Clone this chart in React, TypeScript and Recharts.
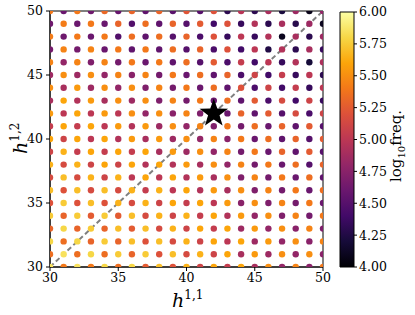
import { ScatterChart, Scatter, XAxis, YAxis, ReferenceLine, ReferenceArea, BarChart, Bar } from "recharts";

// h^{1,1} columns and h^{1,2} rows (top row first)
const h11Values = [30, 31, 32, 33, 34, 35, 36, 37, 38, 39, 40, 41, 42, 43, 44, 45, 46, 47, 48, 49, 50];
const h12Values = [50, 49, 48, 47, 46, 45, 44, 43, 42, 41, 40, 39, 38, 37, 36, 35, 34, 33, 32, 31, 30];

// log10 frequency, one row per h12 value
const logFreq = [
  [5.40, 4.60, 5.40, 4.62, 5.32, 4.58, 5.30, 4.55, 5.30, 4.52, 5.22, 4.50, 5.20, 4.30, 4.98, 4.30, 4.90, 4.22, 4.85, 4.08, 4.80],
  [4.62, 5.42, 4.60, 5.40, 4.60, 5.30, 4.48, 5.35, 4.55, 5.30, 4.50, 5.25, 4.40, 5.20, 4.35, 4.95, 4.30, 4.90, 4.28, 4.85, 4.10],
  [5.42, 4.62, 5.40, 4.60, 5.40, 4.48, 5.35, 4.55, 5.35, 4.50, 5.30, 4.45, 5.20, 4.35, 5.00, 4.35, 4.95, 4.10, 4.90, 4.30, 4.85],
  [4.65, 5.45, 4.65, 5.45, 4.60, 5.40, 4.55, 5.40, 4.55, 5.35, 4.50, 5.30, 4.45, 5.20, 4.40, 5.00, 4.25, 4.95, 4.30, 4.90, 4.35],
  [5.45, 4.80, 5.45, 4.70, 5.45, 4.65, 5.40, 4.60, 5.40, 4.55, 5.35, 4.50, 5.25, 4.45, 5.05, 4.40, 5.00, 4.35, 4.95, 4.20, 4.92],
  [4.85, 5.50, 4.85, 5.50, 4.80, 5.45, 4.75, 5.45, 4.65, 5.40, 4.60, 5.35, 4.55, 5.30, 4.45, 5.10, 4.40, 5.05, 4.35, 5.00, 4.30],
  [5.50, 4.90, 5.55, 4.85, 5.50, 4.80, 5.50, 4.70, 5.45, 4.65, 5.40, 4.60, 5.35, 4.55, 5.20, 4.45, 5.10, 4.40, 5.05, 4.35, 5.00],
  [4.90, 5.60, 4.95, 5.55, 4.90, 5.50, 4.85, 5.50, 4.70, 5.45, 4.65, 5.40, 4.60, 5.35, 4.55, 5.25, 4.45, 5.15, 4.40, 5.10, 4.35],
  [5.55, 5.00, 5.60, 5.00, 5.55, 5.00, 5.50, 4.80, 5.50, 4.75, 5.45, 4.70, 5.40, 4.60, 5.30, 4.55, 5.25, 4.50, 5.15, 4.45, 5.10],
  [5.05, 5.60, 5.05, 5.60, 5.00, 5.55, 4.95, 5.55, 4.85, 5.50, 4.80, 5.45, 4.70, 5.40, 4.65, 5.35, 4.60, 5.30, 4.55, 5.25, 4.50],
  [5.60, 5.10, 5.60, 5.00, 5.60, 4.95, 5.55, 4.90, 5.55, 4.85, 5.50, 4.80, 5.45, 4.75, 5.40, 4.60, 5.35, 4.55, 5.30, 4.50, 5.25],
  [5.10, 5.65, 5.05, 5.60, 5.05, 5.60, 5.05, 5.60, 4.90, 5.55, 4.85, 5.50, 4.80, 5.45, 4.65, 5.40, 4.60, 5.30, 4.55, 5.25, 4.50],
  [5.65, 5.15, 5.65, 5.10, 5.60, 5.10, 5.60, 4.95, 5.60, 4.95, 5.55, 4.90, 5.50, 4.80, 5.45, 4.65, 5.40, 4.60, 5.35, 4.50, 5.30],
  [5.15, 5.70, 5.15, 5.65, 5.10, 5.65, 5.00, 5.60, 5.00, 5.60, 4.95, 5.55, 4.90, 5.50, 4.70, 5.45, 4.65, 5.40, 4.60, 5.35, 4.55],
  [5.70, 5.20, 5.70, 5.15, 5.70, 5.15, 5.65, 5.05, 5.65, 5.00, 5.60, 4.95, 5.55, 4.90, 5.50, 4.70, 5.45, 4.65, 5.40, 4.60, 5.35],
  [5.20, 5.75, 5.20, 5.70, 5.20, 5.65, 5.15, 5.65, 5.10, 5.60, 5.05, 5.60, 5.00, 5.55, 4.75, 5.50, 4.70, 5.45, 4.65, 5.40, 4.60],
  [5.75, 5.30, 5.75, 5.25, 5.75, 5.25, 5.70, 5.15, 5.65, 5.10, 5.65, 5.05, 5.60, 4.95, 5.55, 4.80, 5.50, 4.70, 5.45, 4.65, 5.40],
  [5.30, 5.80, 5.30, 5.75, 5.30, 5.70, 5.25, 5.70, 5.15, 5.65, 5.10, 5.60, 5.05, 5.60, 4.85, 5.55, 4.80, 5.50, 4.75, 5.45, 4.70],
  [5.80, 5.35, 5.80, 5.30, 5.75, 5.30, 5.70, 5.20, 5.70, 5.15, 5.65, 5.10, 5.60, 5.00, 5.60, 4.85, 5.55, 4.80, 5.50, 4.75, 5.45],
  [5.35, 5.85, 5.35, 5.80, 5.35, 5.75, 5.30, 5.75, 5.20, 5.70, 5.15, 5.65, 5.10, 5.60, 4.90, 5.55, 4.85, 5.50, 4.80, 5.50, 4.75],
  [5.85, 5.40, 5.85, 5.40, 5.80, 5.35, 5.80, 5.25, 5.70, 5.20, 5.65, 5.10, 5.60, 5.05, 5.60, 4.90, 5.50, 4.80, 5.45, 4.75, 5.40],
];

const starPoint = [{ h11: 42, h12: 42 }];
const axisTicks = [30, 35, 40, 45, 50];
const cbarTicks = [4, 4.25, 4.5, 4.75, 5, 5.25, 5.5, 5.75, 6];
const cbarRange = [{ name: "cbar", range: [4, 6] }];

const points = h12Values.flatMap((y, i) =>
  h11Values.map((x, j) => ({ h11: x, h12: y, f: logFreq[i][j] }))
);

// inferno colormap stops
const INFERNO = ["#000004", "#160b39", "#420a68", "#6a176e", "#932667", "#bc3754",
  "#dd513a", "#f37819", "#fca50a", "#f6d746", "#fcffa4"];

const hex = (c: string) => [1, 3, 5].map(i => parseInt(c.slice(i, i + 2), 16));

function inferno(v: number) {
  const t = Math.min(1, Math.max(0, (v - 4) / 2)) * 10;
  const i = Math.min(9, Math.floor(t));
  const a = hex(INFERNO[i]), b = hex(INFERNO[i + 1]);
  const k = t - i;
  const c = a.map((va, n) => Math.round(va + (b[n] - va) * k));
  return `rgb(${c[0]},${c[1]},${c[2]})`;
}

const FONT = "'DejaVu Serif', serif";
const tickStyle = { fill: "#000", fontSize: 12.5, fontFamily: FONT };

const GridDot = (props: any) => {
  const { cx, cy, payload } = props;
  return <circle cx={cx} cy={cy} r={3.2} fill={inferno(payload.f)} />;
};

const Star = (props: any) => {
  const { cx, cy } = props;
  const pts = [];
  for (let k = 0; k < 10; k++) {
    const a = -Math.PI / 2 + (k * Math.PI) / 5;
    const r = k % 2 === 0 ? 15 : 6;
    pts.push(`${cx + r * Math.cos(a)},${cy + r * Math.sin(a)}`);
  }
  return <polygon points={pts.join(" ")} fill="#000" />;
};

export default function App() {
  return (
    <div style={{ position: "absolute", left: 0, top: 0, width: 415, height: 315, background: "#fff" }}>
      <svg width={0} height={0} style={{ position: "absolute" }}>
        <defs>
          <linearGradient id="infernoBar" x1="0" y1="1" x2="0" y2="0">
            {INFERNO.map((c, i) => <stop key={i} offset={`${i * 10}%`} stopColor={c} />)}
          </linearGradient>
        </defs>
      </svg>
      <div style={{ position: "absolute", left: 0, top: 0 }}>
        <ScatterChart width={415} height={315} margin={{ top: 11, right: 92, bottom: 18, left: 0 }}>
          <XAxis type="number" dataKey="h11" domain={[30, 50]} ticks={axisTicks} allowDataOverflow
            height={30} tickSize={4} tickMargin={2} stroke="#000" tick={tickStyle} />
          <YAxis type="number" dataKey="h12" domain={[30, 50]} ticks={axisTicks} allowDataOverflow
            width={50} tickSize={4} tickMargin={3} stroke="#000" tick={tickStyle} />
          <Scatter data={points} shape={GridDot} isAnimationActive={false} />
          <ReferenceLine segment={[{ x: 30, y: 30 }, { x: 50, y: 50 }]} stroke="#7f7f7f"
            strokeWidth={2} strokeDasharray="5 3" />
          <Scatter data={starPoint} shape={Star} isAnimationActive={false} />
          <ReferenceArea x1={30} x2={50} y1={30} y2={50} fill="none" fillOpacity={0} stroke="#000" strokeWidth={1} />
        </ScatterChart>
      </div>
      <div style={{ position: "absolute", left: 330, top: 0 }}>
        <BarChart width={85} height={315} data={cbarRange} barCategoryGap={0}
          margin={{ top: 12, right: 16, bottom: 48, left: 10 }}>
          <XAxis dataKey="name" hide />
          <YAxis type="number" orientation="right" domain={[4, 6]} ticks={cbarTicks} width={45}
            tickSize={3} tickMargin={2} axisLine={false} stroke="#000" tick={tickStyle}
            tickFormatter={(v: number) => v.toFixed(2)} />
          <Bar dataKey="range" fill="url(#infernoBar)" stroke="#000" strokeWidth={1} isAnimationActive={false} />
        </BarChart>
      </div>
      <svg width={415} height={315} style={{ position: "absolute", left: 0, top: 0, pointerEvents: "none" }}>
        <text x={172} y={307} fontFamily={FONT} fontSize={19} fontStyle="italic" fill="#000">
          h<tspan fontSize={12} fontStyle="normal" dy={-8}>1,1</tspan>
        </text>
        <text transform="translate(27,154) rotate(-90)" fontFamily={FONT} fontSize={19} fontStyle="italic" fill="#000">
          h<tspan fontSize={12} fontStyle="normal" dy={-8}>1,2</tspan>
        </text>
        <text transform="translate(401,182) rotate(-90)" fontFamily={FONT} fontSize={15} fill="#000">
          log<tspan fontSize={10} dy={4}>10</tspan><tspan dy={-4}>freq.</tspan>
        </text>
      </svg>
    </div>
  );
}
